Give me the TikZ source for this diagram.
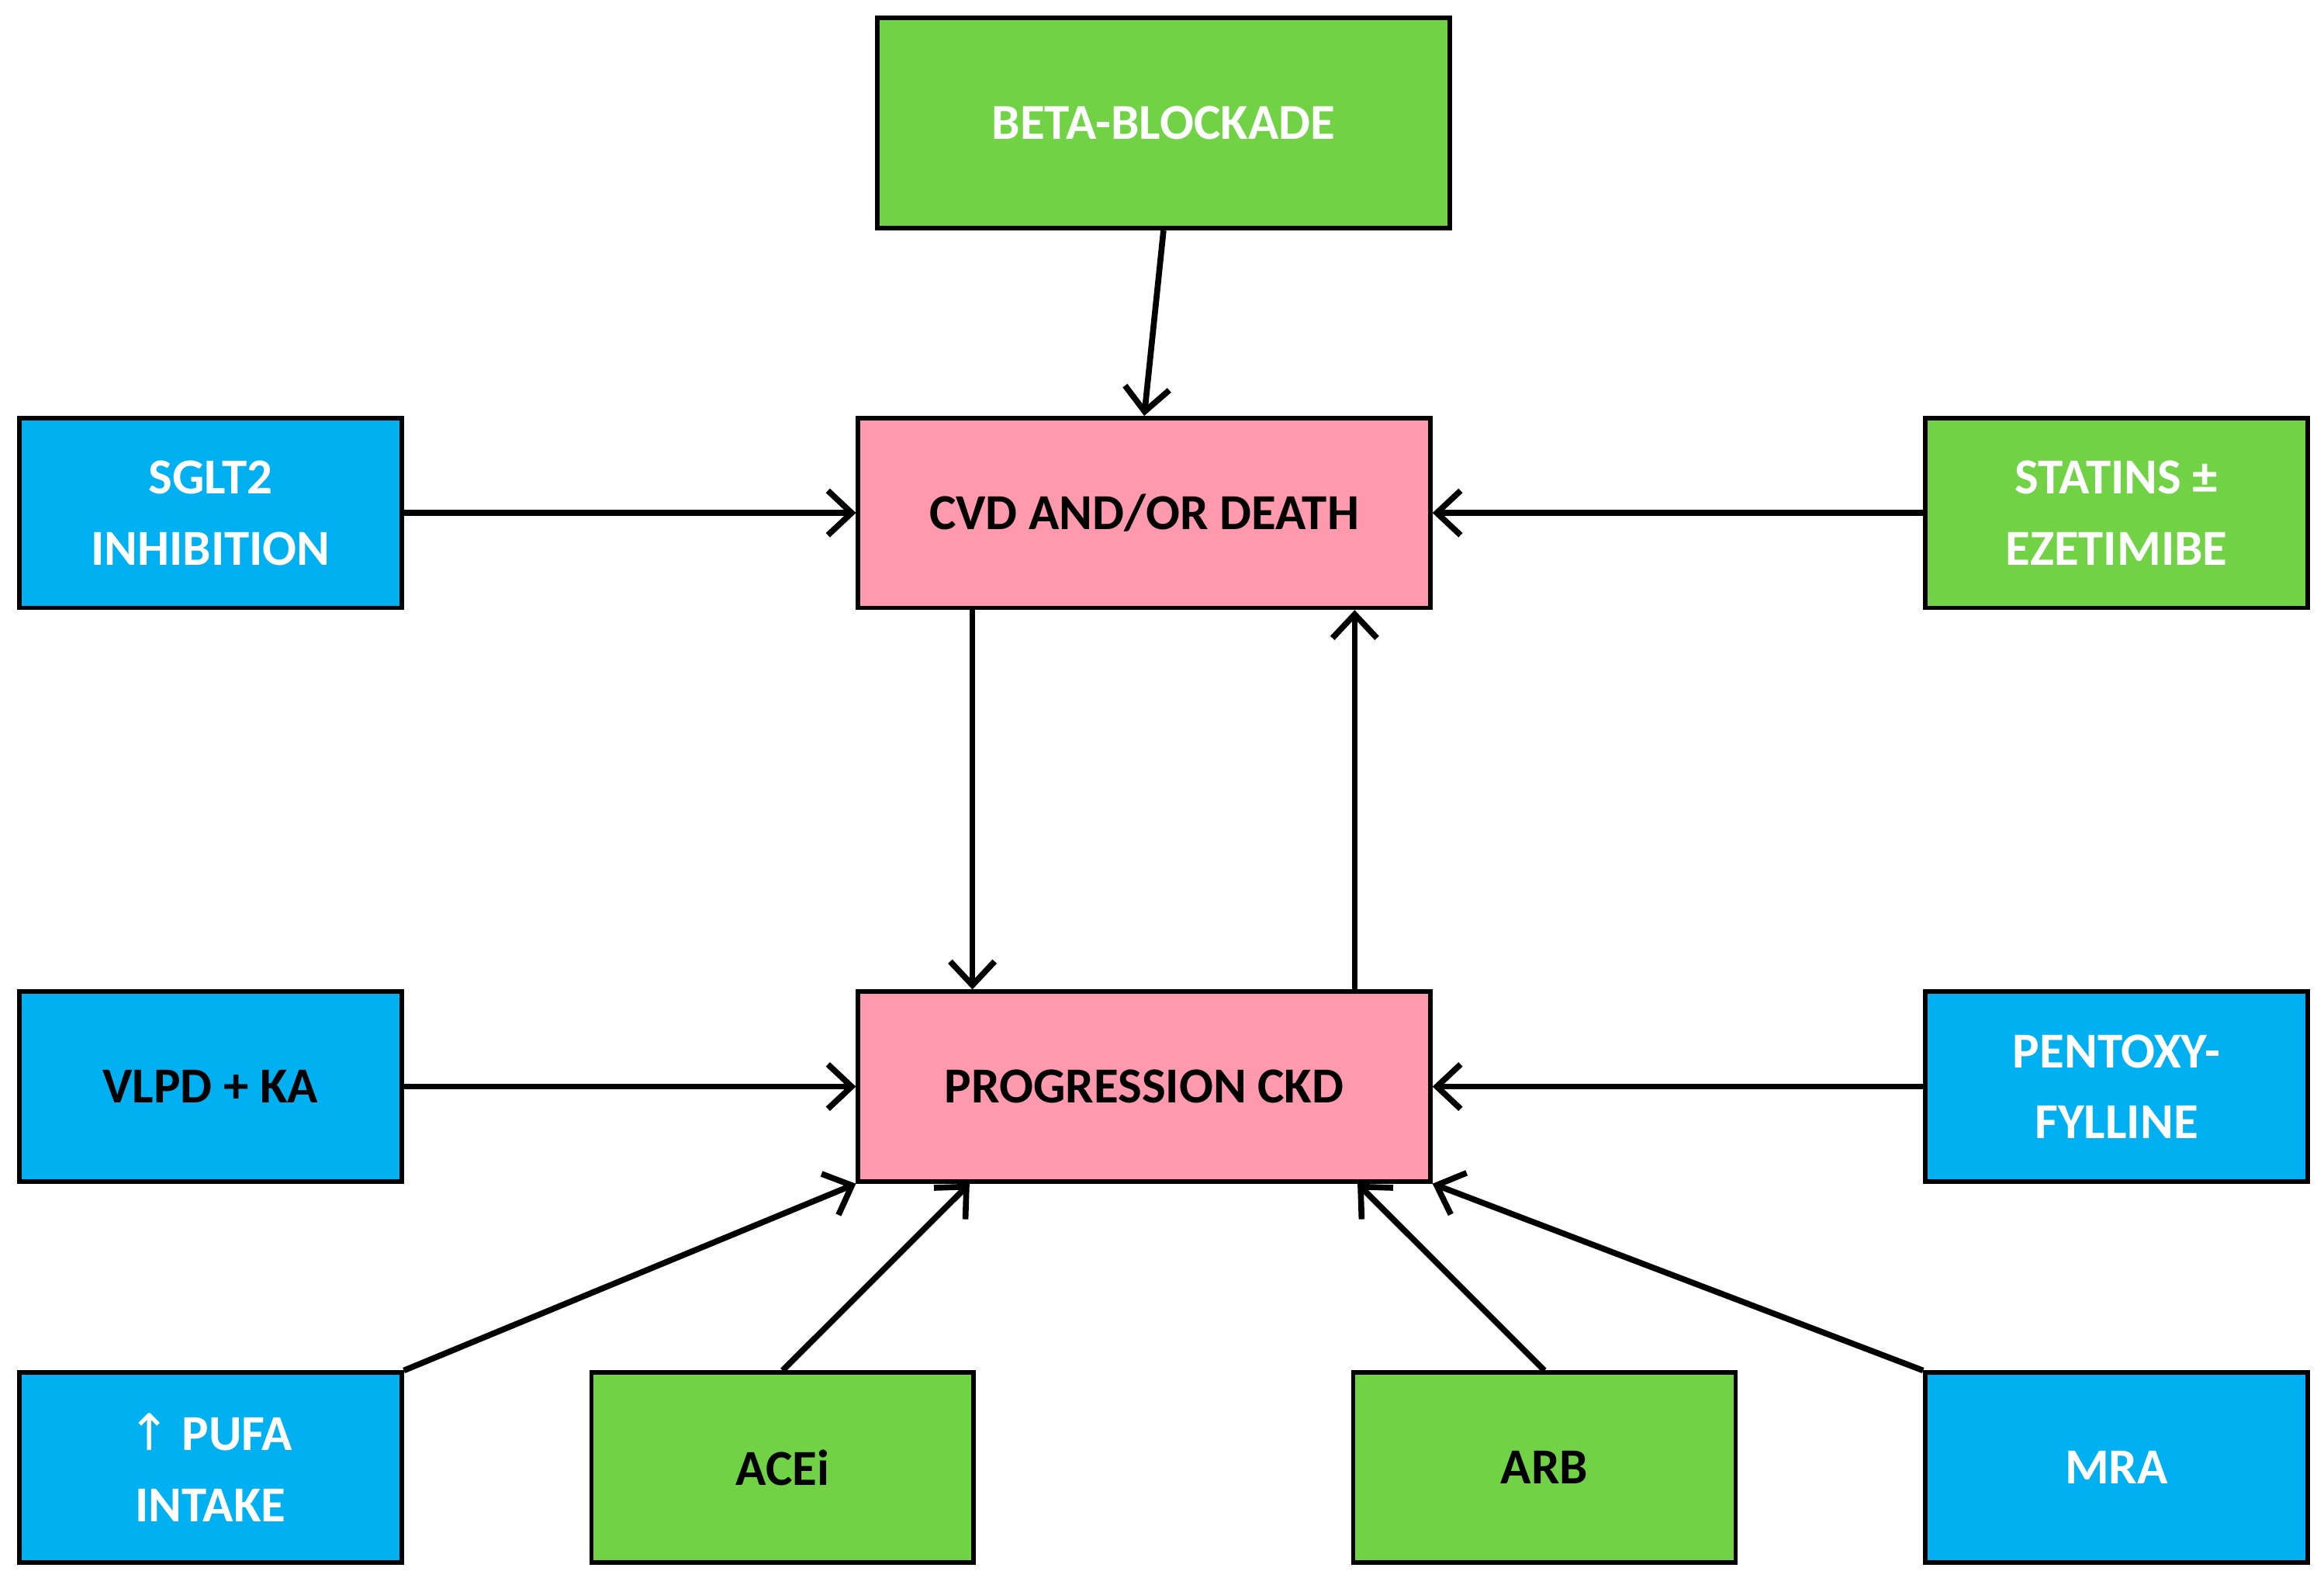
\documentclass[tikz,border=0pt]{standalone}
\usepackage{fontspec}
\setmainfont{Carlito}
\newfontfamily\djv{DejaVu Sans}
\usetikzlibrary{arrows.meta,calc}
\definecolor{cblue}{HTML}{00B0F0}
\definecolor{cgreen}{HTML}{70D244}
\definecolor{cpink}{HTML}{FF99AD}
\begin{document}
\begin{tikzpicture}[x=1pt,y=-1pt,
  box/.style={draw=black,line width=3pt,align=center,font=\bfseries\fontsize{34}{48}\selectfont,inner sep=0pt},
  small/.style={box,minimum width=258pt,minimum height=128pt},
  big/.style={box,minimum width=386pt,minimum height=128pt},
  arr/.style={line width=4pt,-{Straight Barb[length=16pt,width=30pt,line width=4pt]}}]
\useasboundingbox (0,0) rectangle (1568,1069);
\node[box,fill=cgreen,text=white,minimum width=386pt,minimum height=142pt] (beta) at (785,83) {BETA-BLOCKADE};
\node[big,fill=cpink] (cvd) at (772,346) {CVD AND/OR DEATH};
\node[big,fill=cpink] (prog) at (772,733) {PROGRESSION CKD};
\node[small,fill=cblue,text=white] (sglt) at (142,346) {SGLT2\\INHIBITION};
\node[small,fill=cgreen,text=white] (stat) at (1428,346) {STATINS ±\\EZETIMIBE};
\node[small,fill=cblue] (vlpd) at (142,733) {VLPD + KA};
\node[small,fill=cblue,text=white] (pent) at (1428,733) {PENTOXY-\\FYLLINE};
\node[small,fill=cblue,text=white] (pufa) at (142,990) {{\djv\mdseries ↑} PUFA\\INTAKE};
\node[small,fill=cgreen] (ace) at (528,990) {ACEi};
\node[small,fill=cgreen] (arb) at (1042,990) {ARB};
\node[small,fill=cblue,text=white] (mra) at (1428,990) {MRA};
\draw[arr] (beta.south) -- (cvd.north);
\draw[arr] (sglt.east) -- (cvd.west);
\draw[arr] (stat.west) -- (cvd.east);
\draw[arr] (vlpd.east) -- (prog.west);
\draw[arr] (pent.west) -- (prog.east);
\draw[arr] ($(cvd.south west)!0.202!(cvd.south east)$) -- ($(prog.north west)!0.202!(prog.north east)$);
\draw[arr] ($(prog.north west)!0.865!(prog.north east)$) -- ($(cvd.south west)!0.865!(cvd.south east)$);
\draw[arr] (pufa.north east) -- (prog.south west);
\draw[arr] (ace.north) -- ($(prog.south west)!0.197!(prog.south east)$);
\draw[arr] (arb.north) -- ($(prog.south west)!0.87!(prog.south east)$);
\draw[arr] (mra.north west) -- (prog.south east);
\end{tikzpicture}
\end{document}
